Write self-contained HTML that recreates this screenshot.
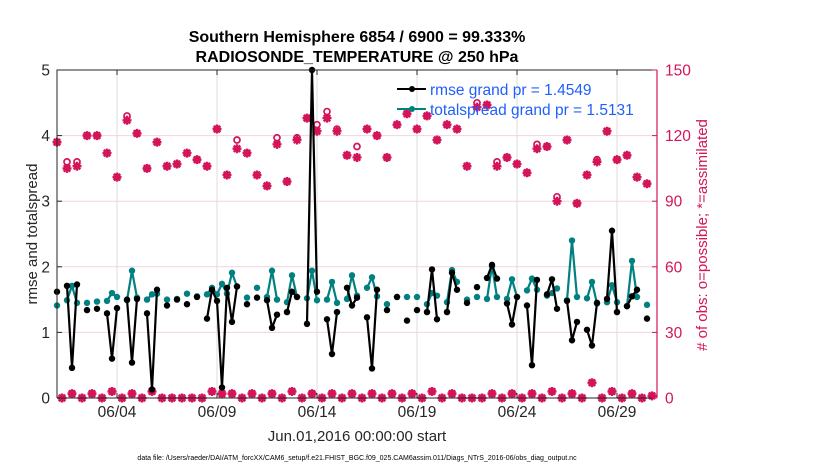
<!DOCTYPE html>
<html><head><meta charset="utf-8">
<style>
html,body{margin:0;padding:0;background:#fff;}
svg{display:block;font-family:"Liberation Sans",sans-serif;}
</style></head>
<body>
<svg id="chart" width="830" height="470" viewBox="0 0 830 470" xmlns="http://www.w3.org/2000/svg">
<rect width="830" height="470" fill="#fff"/>
<g id="grid"></g>
<g id="series"></g>
<g id="axes"></g>
<text x="357" y="42" text-anchor="middle" font-size="16" font-weight="bold" fill="#000">Southern Hemisphere 6854 / 6900 = 99.333%</text>
<text x="357" y="62" text-anchor="middle" font-size="16" font-weight="bold" fill="#000">RADIOSONDE_TEMPERATURE @ 250 hPa</text>
<text transform="translate(37,234) rotate(-90)" text-anchor="middle" font-size="15" fill="#262626">rmse and totalspread</text>
<text transform="translate(707,235) rotate(-90)" text-anchor="middle" font-size="15" fill="#d4145a"># of obs: o=possible; *=assimilated</text>
<text x="357" y="441" text-anchor="middle" font-size="15" fill="#262626">Jun.01,2016 00:00:00 start</text>
<text x="357" y="460" text-anchor="middle" font-size="7" fill="#000">data file: /Users/raeder/DAI/ATM_forcXX/CAM6_setup/f.e21.FHIST_BGC.f09_025.CAM6assim.011/Diags_NTrS_2016-06/obs_diag_output.nc</text>
<g>
  <line x1="397" y1="89" x2="426" y2="89" stroke="#000" stroke-width="2"/>
  <circle cx="412" cy="89" r="3" fill="#000"/>
  <text x="430" y="95" font-size="15.5" fill="#1f5fff">rmse grand pr = 1.4549</text>
  <line x1="397" y1="109" x2="426" y2="109" stroke="#008080" stroke-width="2"/>
  <circle cx="412" cy="109" r="3" fill="#008080"/>
  <text x="430" y="115" font-size="15.5" fill="#1f5fff">totalspread grand pr = 1.5131</text>
</g>
</svg>
<script>
const rmse = [
1.62,null,1.71,0.46,1.73,null,1.34,null,1.36,null,
1.29,0.60,1.37,null,1.50,0.54,1.51,null,1.29,0.13,
1.65,null,1.41,null,1.50,null,1.43,null,1.54,null,
1.21,1.65,1.48,0.16,1.68,1.16,1.70,null,1.43,null,
1.53,null,1.49,1.07,1.27,null,1.31,1.62,1.54,null,
1.13,5.0,1.62,null,1.20,0.67,1.31,null,1.68,1.41,
1.53,null,1.23,0.45,1.65,null,1.34,null,1.54,null,
1.18,null,1.34,null,1.31,1.96,1.20,null,1.31,1.91,
1.65,null,1.45,null,1.69,null,1.83,2.03,1.82,null,
1.44,1.12,1.54,null,1.41,0.50,1.80,null,1.58,1.81,
1.36,null,1.48,0.88,1.16,null,1.04,0.80,1.45,null,
1.51,2.55,1.31,null,1.40,1.55,1.65,null,1.21,null];
const totalspread = [
1.41,null,1.49,1.71,1.45,null,1.45,null,1.47,null,
1.48,1.60,1.54,null,1.49,1.94,1.53,null,1.50,1.58,
1.59,null,1.50,null,1.51,null,1.59,null,1.55,null,
1.58,1.68,1.58,1.74,1.59,1.91,1.70,null,1.53,null,
1.68,null,1.54,1.94,1.50,null,1.46,1.87,1.54,null,
1.52,1.94,1.49,null,1.50,1.77,1.45,null,1.51,1.87,
1.56,null,1.68,1.84,1.55,null,1.43,null,1.54,null,
1.54,null,1.54,null,1.43,1.60,1.56,null,1.46,1.95,
1.77,null,1.50,null,1.54,null,1.51,2.01,1.54,null,
1.51,1.81,1.54,null,1.64,1.82,1.65,null,1.56,1.60,
1.67,null,1.49,2.40,1.54,null,1.52,1.77,1.44,null,
1.46,1.72,1.46,null,1.40,2.09,1.54,null,1.42,null];
const possible = [
117,0,108,2,108,0,120,2,120,0,
112,3,101,0,129,2,121,0,105,3,
117,0,106,0,107,0,112,0,109,0,
106,3,123,2,102,2,118,0,112,2,
102,0,97,2,119,0,99,3,119,0,
128,2,125,0,131,2,123,0,111,2,
115,0,123,2,120,0,110,2,125,0,
130,2,123,0,129,3,118,0,125,2,
123,0,106,0,135,0,134,2,108,0,
110,2,107,0,103,2,116,0,115,3,
92,0,118,2,89,0,102,7,109,0,
122,3,109,0,111,2,101,0,98,1];
const assimilated = [
117,0,105,2,106,0,120,2,120,0,
112,3,101,0,127,2,121,0,105,3,
117,0,106,0,107,0,112,0,109,0,
106,3,123,2,102,2,114,0,112,2,
102,0,97,2,116,0,99,3,118,0,
128,2,122,0,128,2,122,0,111,2,
110,0,123,2,120,0,110,2,125,0,
130,2,123,0,129,3,118,0,125,2,
123,0,106,0,133,0,134,2,106,0,
110,2,107,0,103,2,114,0,115,3,
90,0,118,2,89,0,102,7,108,0,
122,3,109,0,111,2,101,0,98,1];
const leftTicks = [0,1,2,3,4,5];
const rightTicks = [0,30,60,90,120,150];
const xTickDays = [3,8,13,18,23,28];
const xTickLabels = ["06/04","06/09","06/14","06/19","06/24","06/29"];
const stepsPerDay = 4;

const NS = "http://www.w3.org/2000/svg";
const X0 = 57, X1 = 657, Y0 = 398, Y1 = 70;
function xDay(d){ return X0 + (X1 - X0) * d / 30; }
function xIdx(i){ return xDay(i / stepsPerDay); }
function yL(v){ return Y0 - (Y0 - Y1) * v / 5; }
function yR(c){ return Y0 - (Y0 - Y1) * c / 150; }
function mk(tag, attrs, parent){
  const e = document.createElementNS(NS, tag);
  for (const k in attrs) e.setAttribute(k, attrs[k]);
  parent.appendChild(e);
  return e;
}
const grid = document.getElementById('grid');
const series = document.getElementById('series');
const axes = document.getElementById('axes');
const RED = "#d4145a";

xTickDays.forEach(d => {
  const g = mk('line', {x1:xDay(d), x2:xDay(d), y1:Y1, y2:Y0, stroke:"#dcdcdc", "stroke-width":1}, grid);
  
  
});
leftTicks.slice(1,5).forEach(v => {
  const g = mk('line', {x1:X0, x2:X1, y1:yL(v), y2:yL(v), stroke:"#f0d4de", "stroke-width":1}, grid);
  
  
});

for (let i = 0; i < possible.length; i++){
  const x = xIdx(i);
  const gp = mk('circle', {cx:x, cy:yR(possible[i]), r:3, fill:"none", stroke:RED, "stroke-width":1.7}, series);
  
  
  const ya = yR(assimilated[i]);
  const s = 4.5;
  const d = `M${x-s},${ya}H${x+s}M${x},${ya-s}V${ya+s}M${x-s*0.72},${ya-s*0.72}L${x+s*0.72},${ya+s*0.72}M${x-s*0.72},${ya+s*0.72}L${x+s*0.72},${ya-s*0.72}`;
  const ga = mk('path', {d:d, stroke:RED, "stroke-width":2.4, fill:"none"}, series);
  
  
}

function drawSeries(vals, color, name){
  let d = "", pen = false;
  vals.forEach((v, i) => {
    if (v === null){ pen = false; return; }
    d += (pen ? "L" : "M") + xIdx(i).toFixed(1) + "," + yL(v).toFixed(1);
    pen = true;
  });
  const p = mk('path', {d:d, stroke:color, "stroke-width":2.2, fill:"none", "stroke-linejoin":"round"}, series);
  
  
  vals.forEach((v, i) => {
    if (v === null) return;
    const c = mk('circle', {cx:xIdx(i), cy:yL(v), r:3.2, fill:color}, series);
    
    
  });
}
drawSeries(totalspread, "#008080", "totalspread");
drawSeries(rmse, "#000000", "rmse");

const box = mk('path', {d:`M${X0},${Y0}V${Y1}H${X1}`, stroke:"#262626", "stroke-width":1, fill:"none"}, axes);


const bottom = mk('line', {x1:X0, x2:X1, y1:Y0, y2:Y0, stroke:"#262626", "stroke-width":1}, axes);


const rAx = mk('line', {x1:X1, x2:X1, y1:Y1, y2:Y0, stroke:RED, "stroke-width":1.2}, axes);



leftTicks.forEach(v => {
  mk('line', {x1:X0, x2:X0+5, y1:yL(v), y2:yL(v), stroke:"#262626"}, axes);
  const t = mk('text', {x:X0-7, y:yL(v)+5.5, "text-anchor":"end", "font-size":15.5, fill:"#262626"}, axes);
  
  
  t.textContent = v;
});
rightTicks.forEach(v => {
  mk('line', {x1:X1-5, x2:X1, y1:yR(v), y2:yR(v), stroke:RED}, axes);
  const t = mk('text', {x:X1+8, y:yR(v)+5.5, "text-anchor":"start", "font-size":15.5, fill:RED}, axes);
  
  
  t.textContent = v;
});
xTickDays.forEach((d, k) => {
  mk('line', {x1:xDay(d), x2:xDay(d), y1:Y0, y2:Y0-5, stroke:"#262626"}, axes);
  mk('line', {x1:xDay(d), x2:xDay(d), y1:Y1, y2:Y1+5, stroke:"#262626"}, axes);
  const t = mk('text', {x:xDay(d), y:Y0+19, "text-anchor":"middle", "font-size":15.5, fill:"#262626"}, axes);
  
  
  t.textContent = xTickLabels[k];
});
</script>
</body></html>
